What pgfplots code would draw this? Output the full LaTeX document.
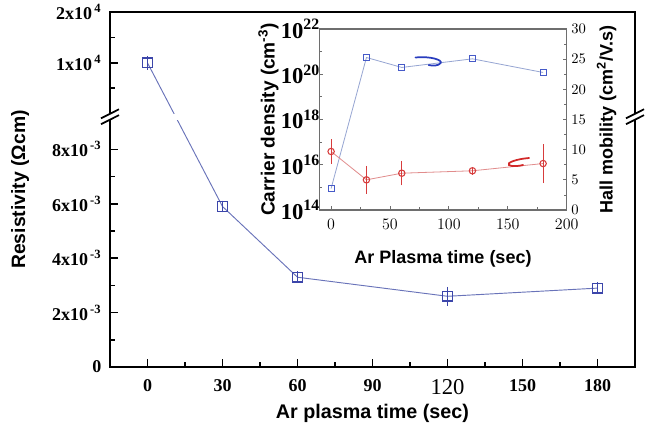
\documentclass[border=0pt]{standalone}
\usepackage{pgfplots}
\pgfplotsset{compat=1.18}
\usepackage{fontspec}
\setmainfont{Liberation Serif}
\newfontfamily\lsans{Liberation Sans}

\definecolor{rholine}{RGB}{105,115,185}
\definecolor{rhomark}{RGB}{60,70,170}
\definecolor{nline}{RGB}{150,165,210}
\definecolor{nmark}{RGB}{70,90,200}
\definecolor{muline}{RGB}{225,140,140}
\definecolor{mumark}{RGB}{215,60,60}
\definecolor{insetframe}{RGB}{110,110,110}
\definecolor{curlblue}{RGB}{40,60,190}
\definecolor{curlred}{RGB}{210,40,40}

% Broken resistivity axis: values below the break are in units of 1e-3 Ohm cm;
% above the break (at 9.31) one unit of 1e4 Ohm cm spans 1.87 plot units.
\pgfplotstableread{
t    rho    err
0    11.18  0.15
30   5.9    0.12
60   3.3    0.12
120  2.6    0.25
180  2.9    0.12
}\resistivity

\pgfplotstableread{
t    n
0    9e14
30   5.5e20
60   2.0e20
120  4.8e20
180  1.2e20
}\carrier

\pgfplotstableread{
t    mu    err
0    9.7   1.7
30   5.0   2.0
60   6.1   1.7
120  6.5   0.3
180  7.7   2.9
}\mobility

\begin{document}
\begin{tikzpicture}
\path[use as bounding box] (0,0) rectangle (489pt,319.5pt);

\begin{axis}[
  at={(82.5pt,44.25pt)}, anchor=south west,
  scale only axis, width=393.75pt, height=266.25pt,
  xmin=-15, xmax=195, ymin=0, ymax=13.05,
  xtick={0,30,60,90,120,150,180},
  xticklabels={0,30,60,90,{\fontsize{17}{17}\selectfont\mdseries 120},150,180},
  minor xtick={15,45,75,105,135,165},
  ytick={0,2,4,6,8,11.18,13.05},
  yticklabels={0,
    {2x10\textsuperscript{\,-3}},
    {4x10\textsuperscript{\,-3}},
    {6x10\textsuperscript{\,-3}},
    {8x10\textsuperscript{\,-3}},
    {1x10\textsuperscript{\,4}},
    {2x10\textsuperscript{\,4}}},
  minor ytick={1,3,5,7,10.245,12.115},
  xtick pos=bottom, ytick pos=left, tick align=inside,
  major tick length=6pt, minor tick length=3.5pt,
  tick style={black, line width=1.3pt},
  axis line style={line width=1.8pt},
  ticklabel style={font=\fontsize{13.5}{14}\selectfont\bfseries},
  xticklabel style={yshift=-6pt},
  yticklabel style={xshift=-3pt},
  xlabel={Ar plasma time (sec)},
  ylabel={Resistivity (Ωcm)},
  every axis x label/.style={at={(axis description cs:0.5,-0.1296)}, anchor=center,
    font=\lsans\bfseries\fontsize{14.8}{15}\selectfont},
  every axis y label/.style={at={(axis description cs:-0.1714,0.5)}, anchor=center, rotate=90,
    font=\lsans\bfseries\fontsize{14.5}{15}\selectfont},
]
\addplot[color=rholine, line width=0.7pt, mark=square, mark size=3.6pt,
  mark options={solid, draw=rhomark, line width=0.9pt},
  error bars/.cd, y dir=both, y explicit,
  error bar style={rhomark, line width=0.7pt},
  error mark options={rhomark, mark size=2pt, line width=0.7pt}]
  table[x=t, y=rho, y error=err] {\resistivity};
\coordinate (brL) at (axis cs:-15,9.2);
\coordinate (brR) at (axis cs:195,9.2);
\end{axis}

% axis break
\fill[white] ([xshift=-4pt,yshift=-2.4pt]brL) rectangle ([xshift=4pt,yshift=2.4pt]brR);
\foreach \c in {brL,brR}{
  \draw[line width=1.3pt] ([xshift=-6.75pt,yshift=-5.6pt]\c) -- ([xshift=6.75pt,yshift=1.2pt]\c);
  \draw[line width=1.3pt] ([xshift=-6.75pt,yshift=-1.2pt]\c) -- ([xshift=6.75pt,yshift=5.6pt]\c);
}

% inset: carrier density (left, log) and Hall mobility (right)
\begin{axis}[
  at={(239.5pt,162pt)}, anchor=south west,
  scale only axis, width=185.5pt, height=135.75pt,
  axis background/.style={fill=white},
  xmin=-10, xmax=200, ymode=log, ymin=1e14, ymax=1e22,
  xtick={0,50,100,150,200}, minor xtick={25,75,125,175},
  ytick={1e14,1e16,1e18,1e20,1e22},
  yticklabels={{10\textsuperscript{14}},{10\textsuperscript{16}},{10\textsuperscript{18}},{10\textsuperscript{20}},{10\textsuperscript{22}}},
  minor ytick={1e15,1e17,1e19,1e21},
  xtick pos=bottom, ytick pos=left, tick align=inside,
  major tick length=3pt, minor tick length=2pt,
  axis line style={insetframe, line width=0.8pt},
  tick style={insetframe, line width=0.6pt},
  xticklabel style={font=\fontsize{12}{12}\selectfont\bfseries, yshift=-3pt},
  yticklabel style={font=\fontsize{17}{17}\selectfont\bfseries, xshift=4pt},
  xlabel={Ar Plasma time (sec)},
  ylabel={Carrier density (cm\textsuperscript{-3})},
  every axis x label/.style={at={(axis description cs:0.5,-0.2707)}, anchor=center,
    font=\lsans\bfseries\fontsize{13.5}{14}\selectfont},
  every axis y label/.style={at={(axis description cs:-0.2062,0.5)}, anchor=center, rotate=90,
    font=\lsans\bfseries\fontsize{14.3}{15}\selectfont},
]
\addplot[color=nline, line width=0.6pt, mark=square, mark size=2.2pt,
  mark options={solid, draw=nmark, line width=0.8pt}]
  table[x=t, y=n] {\carrier};
\end{axis}

\begin{axis}[
  at={(239.5pt,162pt)}, anchor=south west,
  scale only axis, width=185.5pt, height=135.75pt,
  xmin=-10, xmax=200, ymin=0, ymax=30,
  axis x line=none, axis y line*=right,
  ytick={0,5,...,30}, minor ytick={2.5,7.5,...,27.5},
  tick align=inside,
  major tick length=3pt, minor tick length=2pt,
  axis line style={insetframe, line width=0.8pt, -},
  tick style={insetframe, line width=0.6pt},
  yticklabel style={font=\fontsize{10.5}{11}\selectfont\bfseries},
  ylabel={Hall mobility (cm\textsuperscript{2}/V.s)},
  every axis y label/.style={at={(axis description cs:1.1617,0.5)}, anchor=center, rotate=90,
    font=\lsans\bfseries\fontsize{13.5}{14}\selectfont},
]
\addplot[color=muline, line width=0.6pt, mark=o, mark size=2.4pt,
  mark options={solid, draw=mumark, line width=0.8pt},
  error bars/.cd, y dir=both, y explicit,
  error bar style={mumark, line width=0.6pt},
  error mark options={mumark, mark size=1.5pt, line width=0.6pt}]
  table[x=t, y=mu, y error=err] {\mobility};
% arrows pointing each curve to its axis
\draw[curlblue, line width=1.3pt, line cap=round]
  (axis cs:71.7,25.28) .. controls (axis cs:84.5,25.53) and (axis cs:94.7,24.86) ..
  (axis cs:93.0,24.37) .. controls (axis cs:91.3,23.87) and (axis cs:86.2,23.87) ..
  (axis cs:82.8,24.03);
\draw[curlred, line width=1.3pt, line cap=round]
  (axis cs:168.1,8.62) .. controls (axis cs:157.0,8.45) and (axis cs:148.5,7.79) ..
  (axis cs:151.0,7.46) .. controls (axis cs:153.6,7.13) and (axis cs:159.6,7.29) ..
  (axis cs:163.0,7.46);
\end{axis}
\end{tikzpicture}
\end{document}
